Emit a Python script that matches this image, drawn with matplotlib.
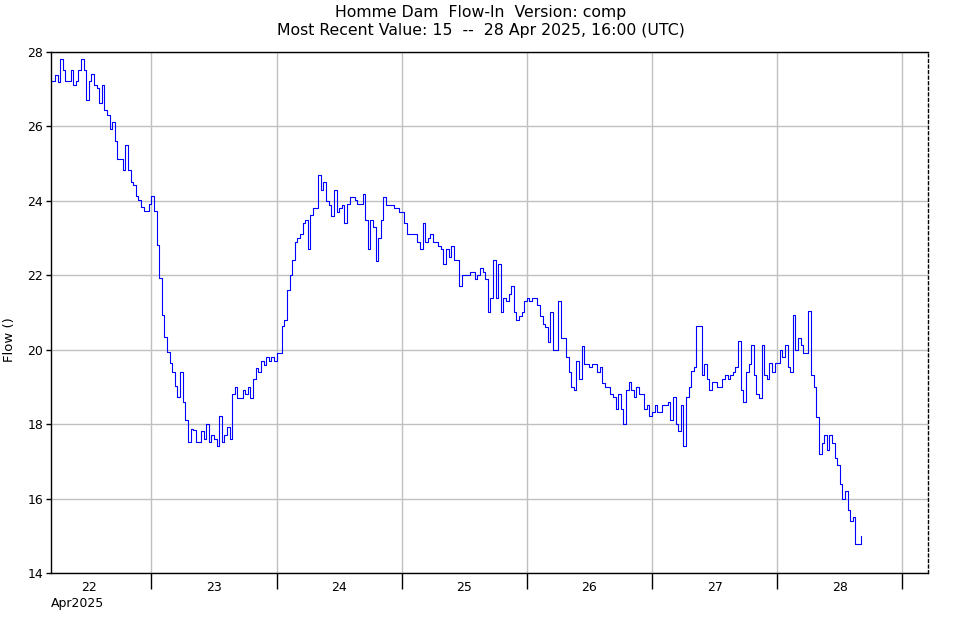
import pandas as pd
import matplotlib
matplotlib.use("Agg")
import matplotlib.pyplot as plt
import matplotlib.dates as mdates
from matplotlib.ticker import NullFormatter

# Homme Dam inflow, 30-minute readings starting 22 Apr 2025 05:00 UTC
start = "2025-04-22 05:00"
step = "30min"
flow = [
    27.21, 27.39, 27.2, 27.81, 27.52, 27.23, 27.23, 27.52, 27.12, 27.23,
    27.52, 27.81, 27.52, 26.72, 27.23, 27.42, 27.12, 27.03, 26.63, 27.12,
    26.43, 26.31, 25.93, 26.12, 25.6, 25.12, 25.12, 24.83, 25.5, 24.83,
    24.52, 24.43, 24.12, 24.03, 23.83, 23.73, 23.73, 23.92, 24.12, 23.73,
    22.82, 21.94, 20.93, 20.33, 19.93, 19.63, 19.41, 19.02, 18.72, 19.4,
    18.6, 18.1, 17.52, 17.88, 17.84, 17.51, 17.51, 17.82, 17.6, 18.0,
    17.51, 17.71, 17.61, 17.42, 18.22, 17.51, 17.71, 17.91, 17.61, 18.81,
    18.99, 18.70, 18.70, 18.91, 18.81, 19.0, 18.7, 19.21, 19.51, 19.41,
    19.70, 19.60, 19.81, 19.70, 19.81, 19.70, 19.90, 19.90, 20.63, 20.80,
    21.61, 22.01, 22.41, 22.89, 23.0, 23.11, 23.40, 23.49, 22.71, 23.61,
    23.80, 23.80, 24.70, 24.30, 24.50, 23.99, 23.89, 23.60, 24.30, 23.69,
    23.80, 23.89, 23.41, 23.92, 24.10, 24.10, 24.01, 23.92, 23.92, 24.19,
    23.49, 22.70, 23.49, 23.31, 22.39, 23.0, 23.49, 24.1, 23.89, 23.89,
    23.89, 23.80, 23.80, 23.69, 23.69, 23.41, 23.11, 23.11, 23.11, 23.11,
    22.90, 22.70, 23.41, 22.90, 23.0, 23.11, 22.90, 22.90, 22.8, 22.70,
    22.30, 22.70, 22.50, 22.79, 22.41, 22.41, 21.71, 22.0, 22.0, 22.0,
    22.09, 22.09, 21.89, 22.0, 22.19, 22.09, 21.89, 21.02, 21.4, 22.40,
    21.40, 22.29, 21.02, 21.40, 21.31, 21.49, 21.71, 21.02, 20.79, 20.91,
    21.02, 21.31, 21.40, 21.31, 21.40, 21.40, 21.21, 20.91, 20.69, 20.60,
    20.21, 21.02, 20.0, 20.0, 21.31, 20.31, 20.31, 19.81, 19.41, 19.01,
    18.92, 19.71, 19.21, 20.11, 19.62, 19.62, 19.53, 19.62, 19.62, 19.41,
    19.53, 19.11, 19.01, 19.01, 18.81, 18.72, 18.41, 18.81, 18.41, 18.0,
    18.92, 19.13, 18.92, 18.72, 19.01, 18.81, 18.81, 18.41, 18.51, 18.23,
    18.32, 18.51, 18.32, 18.32, 18.51, 18.51, 18.60, 18.12, 18.72, 18.0,
    17.82, 18.51, 17.41, 18.72, 19.01, 19.44, 19.53, 20.63, 20.63, 19.33,
    19.62, 19.22, 18.92, 19.13, 19.13, 19.01, 19.01, 19.22, 19.31, 19.22,
    19.31, 19.40, 19.53, 20.23, 18.92, 18.60, 19.40, 19.62, 20.12, 19.31,
    18.81, 18.70, 20.12, 19.31, 19.22, 19.64, 19.41, 19.64, 19.64, 20.0,
    19.80, 20.12, 19.53, 19.41, 20.93, 20.0, 20.32, 20.12, 19.91, 19.91,
    21.04, 19.31, 18.99, 18.20, 17.19, 17.50, 17.70, 17.30, 17.70, 17.50,
    17.10, 16.90, 16.40, 16.0, 16.20, 15.70, 15.41, 15.50, 14.78, 14.78,
    15.0,
]

y_ticks = [14, 16, 18, 20, 22, 24, 26, 28]
title_1 = "Homme Dam  Flow-In  Version: comp"
title_2 = "Most Recent Value: 15  --  28 Apr 2025, 16:00 (UTC)"

times = pd.date_range(start, periods=len(flow), freq=step)

fig = plt.figure(figsize=(9.61, 6.2), dpi=100)
ax = fig.add_axes([51 / 961, 1 - 573 / 620, 877 / 961, 521 / 620])

ax.step(times, flow, where="post", color="#0000ff", lw=0.8, zorder=3)

ax.set_xlim(pd.Timestamp("2025-04-22 04:45"), pd.Timestamp("2025-04-29 04:55"))
ax.set_ylim(14, 28)
ax.set_yticks(y_ticks)

# day boundaries get the tick marks, day names sit at noon
ax.xaxis.set_major_locator(mdates.DayLocator())
ax.xaxis.set_major_formatter(NullFormatter())
ax.xaxis.set_minor_locator(mdates.HourLocator(byhour=12))
ax.xaxis.set_minor_formatter(mdates.DateFormatter("%-d"))
ax.tick_params(axis="x", which="major", length=11.5, width=1, direction="out")
ax.tick_params(axis="x", which="minor", length=0, pad=5.5, labelsize=9)
ax.tick_params(axis="y", length=3.6, width=1, pad=2, labelsize=9)

ax.grid(True, which="major", color="#c0c0c0", lw=1)
ax.set_axisbelow(True)

for side in ["left", "bottom", "top"]:
    ax.spines[side].set_linewidth(1)
ax.spines["right"].set_linestyle((0, (2, 2)))
ax.spines["right"].set_linewidth(1)

fig.text(51 / 961, 1 - 603 / 620, "Apr2025", ha="left", va="center", fontsize=9)
fig.text(10 / 961, 1 - 340 / 620, "Flow ()", rotation=90, ha="center", va="center", fontsize=9.5)
fig.text(0.5, 1 - 12 / 620, title_1, ha="center", va="center", fontsize=11.3)
fig.text(0.5, 1 - 31 / 620, title_2, ha="center", va="center", fontsize=11.3)

fig.savefig("out.png", dpi=100)
